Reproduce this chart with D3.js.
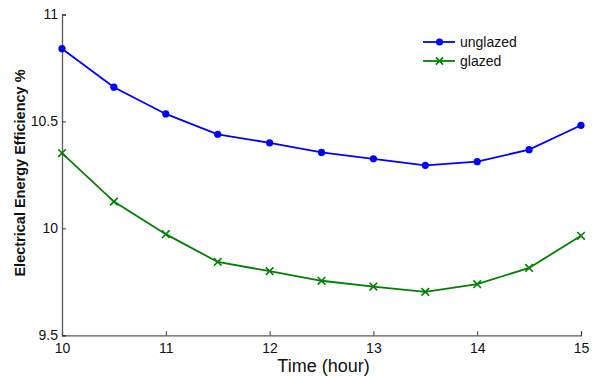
<!DOCTYPE html>
<html>
<head>
<meta charset="utf-8">
<script src="https://cdn.jsdelivr.net/npm/d3@7/dist/d3.min.js"></script>
<style>
  html, body { margin: 0; padding: 0; background: #fff; }
  svg { display: block; font-family: "Liberation Sans", Arial, sans-serif; }
</style>
</head>
<body>
<svg id="chart" width="599" height="376"></svg>
<script>
// Hours of the day
const hours = [10, 10.5, 11, 11.5, 12, 12.5, 13, 13.5, 14, 14.5, 15];
// Electrical energy efficiency (%)
const unglazed = [10.84, 10.66, 10.535, 10.44, 10.40, 10.355, 10.325, 10.295, 10.312, 10.368, 10.482];
const glazed   = [10.352, 10.125, 9.973, 9.843, 9.80, 9.755, 9.728, 9.703, 9.739, 9.815, 9.965];
const xTicks = [10, 11, 12, 13, 14, 15];
const yTicks = [9.5, 10, 10.5, 11];

const svg = d3.select("#chart");
const m = { left: 62, right: 581, top: 14.5, bottom: 335.3 };

const x = d3.scaleLinear().domain([10, 15]).range([m.left, m.right]);
const y = d3.scaleLinear().domain([9.5, 11]).range([m.bottom, m.top]);

const axisColor = "#595959";

// x axis (ticks point inward)
const gx = svg.append("g")
  .attr("transform", `translate(0,${m.bottom})`)
  .call(d3.axisBottom(x).tickValues(xTicks).tickSize(-4).tickPadding(8).tickFormat(d3.format("d")));
gx.select(".domain").attr("stroke", axisColor).attr("stroke-width", 1.3);
gx.selectAll(".tick line").attr("stroke", "#333");
gx.selectAll(".tick text").attr("font-size", 14).attr("fill", "#111")
  .attr("font-family", "Liberation Sans, Arial, sans-serif");

// y axis
const gy = svg.append("g")
  .attr("transform", `translate(${m.left},0)`)
  .call(d3.axisLeft(y).tickValues(yTicks).tickSize(-4).tickPadding(4).tickFormat(d => d));
gy.select(".domain").attr("stroke", axisColor).attr("stroke-width", 1.3);
gy.selectAll(".tick line").attr("stroke", "#333");
gy.selectAll(".tick text").attr("font-size", 14).attr("fill", "#111")
  .attr("font-family", "Liberation Sans, Arial, sans-serif");

// axis titles
svg.append("text")
  .attr("x", 323.5).attr("y", 372)
  .attr("text-anchor", "middle").attr("font-size", 18).attr("fill", "#111")
  .text("Time (hour)");

svg.append("text")
  .attr("transform", `translate(24.5,173) rotate(-90)`)
  .attr("text-anchor", "middle").attr("font-size", 14.5).attr("font-weight", "bold").attr("fill", "#111")
  .text("Electrical Energy Efficiency %");

const line = d3.line().x((d, i) => x(hours[i])).y(d => y(d));

const blue = "#0000ff", green = "#008000";

// unglazed series: solid dots
svg.append("path").datum(unglazed)
  .attr("d", line).attr("fill", "none").attr("stroke", blue).attr("stroke-width", 1.8);
svg.append("g").selectAll("circle").data(unglazed).join("circle")
  .attr("cx", (d, i) => x(hours[i])).attr("cy", d => y(d)).attr("r", 3.6).attr("fill", blue);

// glazed series: x markers
const cross = (g, cx, cy, s, color) => {
  g.append("path")
    .attr("d", `M${cx - s},${cy - s}L${cx + s},${cy + s}M${cx - s},${cy + s}L${cx + s},${cy - s}`)
    .attr("stroke", color).attr("stroke-width", 1.6).attr("fill", "none");
};
svg.append("path").datum(glazed)
  .attr("d", line).attr("fill", "none").attr("stroke", green).attr("stroke-width", 1.8);
const gm = svg.append("g");
glazed.forEach((d, i) => cross(gm, x(hours[i]), y(d), 3.8, green));

// legend
const lg = svg.append("g");
const rows = [
  { name: "unglazed", color: blue, y: 42, mark: "dot" },
  { name: "glazed", color: green, y: 61, mark: "x" }
];
rows.forEach(r => {
  lg.append("line").attr("x1", 423).attr("x2", 455).attr("y1", r.y).attr("y2", r.y)
    .attr("stroke", r.color).attr("stroke-width", 1.8);
  if (r.mark === "dot") {
    lg.append("circle").attr("cx", 439.5).attr("cy", r.y).attr("r", 3.6).attr("fill", r.color);
  } else {
    cross(lg, 439.5, r.y, 3.6, r.color);
  }
  lg.append("text").attr("x", 460).attr("y", r.y + 5).attr("font-size", 14).attr("fill", "#111")
    .text(r.name);
});
</script>
</body>
</html>
